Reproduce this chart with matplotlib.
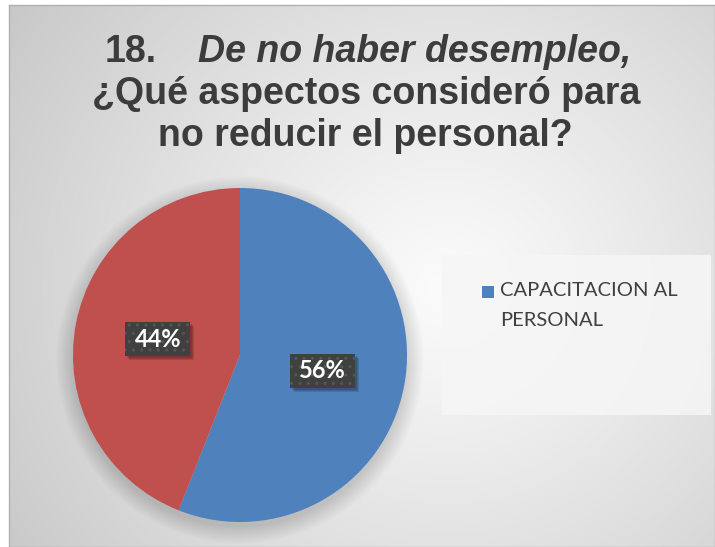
import numpy as np
import matplotlib
matplotlib.use("Agg")
import matplotlib.pyplot as plt
from matplotlib.patches import Rectangle, Circle

# ---- data ----
values = [56, 44]
slice_colors = ["#4f81bd", "#c0504d"]
legend_labels = ["CAPACITACION AL\nPERSONAL"]
title_num = "18."
title_italic = "De no haber desempleo,"
title_line2 = "¿Qué aspectos consideró para"
title_line3 = "no reducir el personal?"

W, H = 715, 547
DPI = 100
fig = plt.figure(figsize=(W / DPI, H / DPI), dpi=DPI)
fig.patch.set_facecolor("white")

def fx(x):
    return x / W

def fy(y):
    return 1 - y / H

# ---- background with radial gradient ----
x0, y0, x1, y1 = 9, 5, 715, 547
bg = fig.add_axes([fx(x0), fy(y1), (x1 - x0) / W, (y1 - y0) / H])
nx, ny = 400, 300
xx, yy = np.meshgrid(np.linspace(0, 1, nx), np.linspace(0, 1, ny))
cx, cy = 0.62, 0.52
d = np.sqrt(((xx - cx) * 1.25) ** 2 + ((yy - cy)) ** 2)
d = d / d.max()
v = 0.985 - 0.20 * d ** 1.1
img = np.dstack([v, v, v])
bg.imshow(img, extent=[0, 1, 0, 1], aspect="auto", origin="upper", zorder=0)
bg.set_xlim(0, 1)
bg.set_ylim(0, 1)
bg.set_xticks([])
bg.set_yticks([])
for s in bg.spines.values():
    s.set_color("#b0b0b0")
    s.set_linewidth(1.0)

# ---- title ----
tcol = "#3c3c3c"
tfont = "Liberation Sans"
tsize = 27
fig.text(fx(105), fy(62), title_num, ha="left", va="baseline", fontsize=tsize,
         fontweight="bold", color=tcol, family=tfont)
fig.text(fx(198), fy(62), title_italic, ha="left", va="baseline", fontsize=tsize,
         fontweight="bold", fontstyle="italic", color=tcol, family=tfont)
fig.text(fx(366), fy(104), title_line2, ha="center", va="baseline", fontsize=tsize,
         fontweight="bold", color=tcol, family=tfont)
fig.text(fx(365), fy(146), title_line3, ha="center", va="baseline", fontsize=tsize,
         fontweight="bold", color=tcol, family=tfont)

# ---- pie ----
pcx, pcy, r = 240, 355, 167
ax = fig.add_axes([fx(pcx - r), fy(pcy + r), 2 * r / W, 2 * r / H])
ax.set_facecolor("none")
ax.patch.set_alpha(0)
ax.set_axis_off()

# soft shadow
for k in range(12):
    ax.add_patch(Circle((0.0, -0.03), 1.0 + 0.009 * k, color="black", alpha=0.011,
                        lw=0, zorder=0, clip_on=False))

wedges, texts, autotexts = ax.pie(
    values, colors=slice_colors, startangle=90, counterclock=False,
    autopct="%1.0f%%", pctdistance=0.5, radius=1.0,
    wedgeprops=dict(linewidth=0, clip_on=False), textprops=dict(zorder=5))
ax.set_xlim(-1, 1)
ax.set_ylim(-1, 1)
ax.set_aspect("equal")

bw, bh = 65 / r, 34 / r
for t in autotexts:
    px, py = t.get_position()
    for k in range(3):
        ax.add_patch(Rectangle((px - bw / 2 + (2 + k) / r, py - bh / 2 - (2 + k) / r),
                               bw, bh, facecolor="black", alpha=0.12, lw=0, zorder=3))
    ax.add_patch(Rectangle((px - bw / 2, py - bh / 2), bw, bh,
                           facecolor="#404040", edgecolor="#565656", lw=0,
                           hatch="..", zorder=4))
    t.set_color("white")
    t.set_fontsize(17)
    t.set_fontweight("bold")
    t.set_family("Lato")
    t.set_va("center")

# ---- legend box ----
fig.patches.append(Rectangle((fx(442), fy(415)), (711 - 442) / W, (415 - 255) / H,
                             transform=fig.transFigure, facecolor="#f6f6f6",
                             alpha=0.85, lw=0, zorder=1))
fig.patches.append(Rectangle((fx(482), fy(298)), 12 / W, 12 / H,
                             transform=fig.transFigure, facecolor=slice_colors[0],
                             lw=0, zorder=2))
fig.text(fx(500), fy(282), legend_labels[0], ha="left", va="top",
         fontsize=14.5, family="Lato", color="#404040", linespacing=1.9,
         multialignment="left", zorder=3)

fig.savefig("out.png", dpi=DPI)
